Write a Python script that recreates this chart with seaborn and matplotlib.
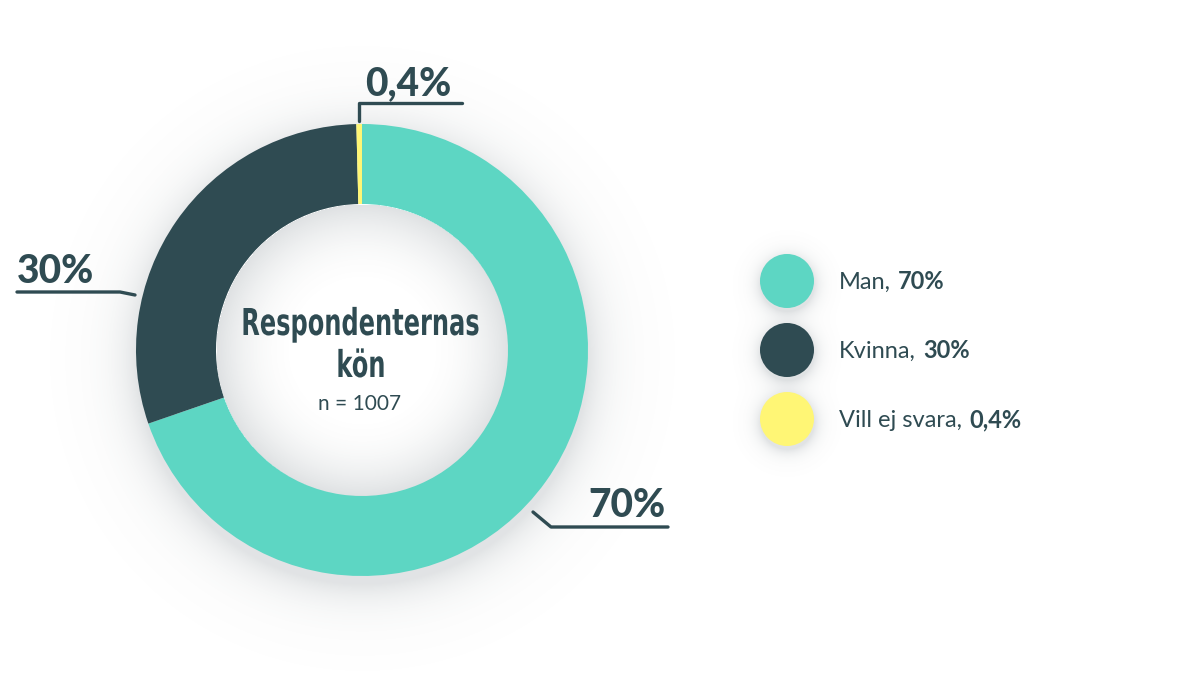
import matplotlib
matplotlib.use('Agg')
import numpy as np
import pandas as pd
import matplotlib.pyplot as plt
import seaborn as sns
from matplotlib.textpath import TextPath
from matplotlib.patches import PathPatch
from matplotlib.font_manager import FontProperties
from matplotlib.transforms import Affine2D

# data
categories = ['Man', 'Kvinna', 'Vill ej svara']
shares = [70, 30, 0.4]
share_labels = ['70%', '30%', '0,4%']
colors = ['#5DD6C3', '#2F4B52', '#FFF675']
title_lines = ['Respondenternas', 'kön']
n_text = 'n = 1007'

dark = '#2F4B52'
W, H = 1201, 681
cx, cy, R, ring = 362, 350, 226, 80

sns.set_theme(style='white')
plt.rcParams['font.family'] = ['Lato', 'DejaVu Sans']

fig = plt.figure(figsize=(W / 100, H / 100), dpi=100)
ax = fig.add_axes([0, 0, 1, 1])

# soft shadows behind the ring and the legend dots
yy, xx = np.mgrid[0:H, 0:W]
alpha = np.zeros((H, W))
d_out = np.hypot(xx - cx, yy - cy - 8)
alpha += 0.20 * np.exp(-np.clip(d_out - R, 0, None) / 22) * (d_out > R - 30)
d_in = np.hypot(xx - cx, yy - cy)
inner = R - ring
alpha += np.where(d_in < inner, 0.22 * np.clip((d_in - 60) / (inner - 60), 0, 1) ** 2.2, 0)
leg_y = [281, 350, 419]
for ly in leg_y:
    d = np.hypot(xx - 787, yy - ly - 3)
    alpha += 0.20 * np.exp(-np.clip(d - 27, 0, None) / 7) * (d > 20)
img = np.zeros((H, W, 4))
img[..., 0], img[..., 1], img[..., 2] = 0.42, 0.47, 0.50
img[..., 3] = np.clip(alpha, 0, 1)
ax.imshow(img, extent=(0, W, H, 0), zorder=0, interpolation='bilinear')

# donut
ax.pie(shares, colors=colors, startangle=-90, counterclock=True,
       center=(cx, cy), radius=R, wedgeprops=dict(width=ring, linewidth=0),
       frame=True)
ax.set_xlim(0, W)
ax.set_ylim(H, 0)
ax.axis('off')

# centre title, drawn as a squeezed path to imitate a condensed face
title_fp = FontProperties(family='DejaVu Sans', weight='bold')
cap = TextPath((0, 0), 'R', size=100, prop=title_fp).get_extents().height
ref_w = TextPath((0, 0), title_lines[0], size=100, prop=title_fp).get_extents().width
sy = 27 / cap * 100
sx = 235 / ref_w * 100
for line, base in zip(title_lines, [335, 377]):
    tp = TextPath((0, 0), line, size=1, prop=title_fp)
    ext = tp.get_extents()
    tr = Affine2D().translate(-(ext.x0 + ext.width / 2), 0).scale(sx, -sy).translate(361, base)
    ax.add_patch(PathPatch(tr.transform_path(tp), facecolor=dark, edgecolor='none', zorder=5))

ax.text(360, 410, n_text, ha='center', va='baseline', fontsize=15, color=dark)

# leader lines and labels
lw = 2.4
ax.plot([359, 359, 462], [121, 103, 103], color=dark, lw=lw, solid_capstyle='round')
ax.text(365, 95, share_labels[2], ha='left', va='baseline', fontsize=28,
        fontweight='black', color=dark)
ax.plot([17, 120, 135], [292, 292, 295], color=dark, lw=lw, solid_capstyle='round')
ax.text(17, 283, share_labels[1], ha='left', va='baseline', fontsize=28,
        fontweight='black', color=dark)
ax.plot([533, 551, 668], [512, 527, 527], color=dark, lw=lw, solid_capstyle='round')
ax.text(666, 517, share_labels[0], ha='right', va='baseline', fontsize=28,
        fontweight='black', color=dark)

# legend
legend_df = pd.DataFrame({'x': [787] * 3, 'y': leg_y, 'cat': categories})
sns.scatterplot(data=legend_df, x='x', y='y', hue='cat', palette=colors,
                s=1513, linewidth=0, legend=False, ax=ax, zorder=3)
for cat, lab, ly in zip(categories, share_labels, leg_y):
    t = ax.text(839, ly + 8, cat + ',', ha='left', va='baseline', fontsize=17,
                color=dark)
    ax.annotate(lab, xy=(1, ly + 8), xycoords=(t, 'data'), xytext=(5, 0),
                textcoords='offset points', ha='left', va='baseline',
                fontsize=17, fontweight='bold', color=dark)

ax.set_xlim(0, W)
ax.set_ylim(H, 0)
ax.axis('off')
fig.savefig('out.png', dpi=100, facecolor='white')
